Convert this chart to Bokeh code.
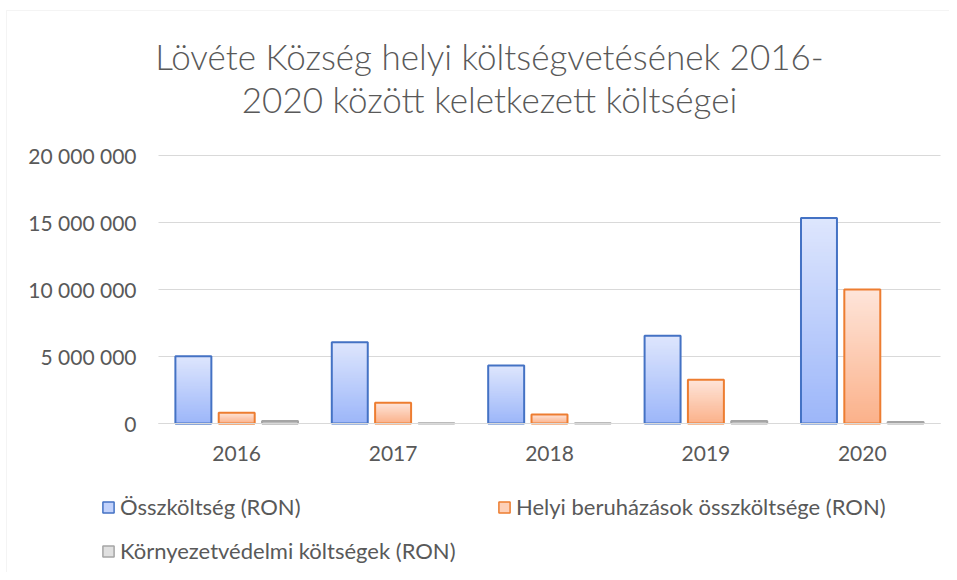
from bokeh.plotting import figure
from bokeh.models import (ColumnDataSource, Legend, LegendItem, Label, Range1d,
                          LinearAxis, FixedTicker, CustomJSTickFormatter,
                          BoxAnnotation)
from bokeh.transform import dodge
from bokeh.embed import file_html
from bokeh.resources import INLINE

# ---- data ----
years = [2016, 2017, 2018, 2019, 2020]
osszkoltseg = [5020000, 6070000, 4330000, 6550000, 15330000]
helyi_beruhazasok = [800000, 1550000, 670000, 3260000, 10000000]
kornyezetvedelmi = [180000, 20000, 20000, 180000, 120000]
series_names = ["Összköltség (RON)",
                "Helyi beruházások összköltsége (RON)",
                "Környezetvédelmi költségek (RON)"]
y_ticks = [0, 5000000, 10000000, 15000000, 20000000]
title_lines = ["Lövéte Község helyi költségvetésének 2016-",
               "2020 között keletkezett költségei"]

FONT = "Lato"
TITLE_FONT = "Lato Light, Lato"
TXT = "#595959"
GRID = "#d9d9d9"

# ---- layout (pixels) ----
W, H = 949, 572
PL, PR, PT, PB = 158, 940, 155, 423          # plot area box
YMAX = 20000000
cat_px = (PR - PL) / len(years)
val_px = (PB - PT) / YMAX
xa, xb = years[0] - 0.5, years[-1] + 0.5
x_start = xa - PL / cat_px
x_end = xb + (W - PR) / cat_px
y_start = -(H - PB) / val_px
y_end = YMAX + PT / val_px

p = figure(width=W, height=H, output_backend="svg", toolbar_location=None,
           x_range=Range1d(x_start, x_end), y_range=Range1d(y_start, y_end),
           x_axis_location=None, y_axis_location=None,
           min_border=0, min_border_left=0, min_border_right=0,
           min_border_top=0, min_border_bottom=0)
p.outline_line_color = None
p.xgrid.grid_line_color = None
p.ygrid.grid_line_color = None

# chart border (top / left visible)
p.add_layout(BoxAnnotation(left=6, right=W + 20, bottom=-20, top=H - 10,
                           left_units="screen", right_units="screen",
                           bottom_units="screen", top_units="screen",
                           fill_alpha=0, line_color=GRID, line_width=1))

# gridlines from the tick list
p.segment(x0=[xa] * len(y_ticks), x1=[xb] * len(y_ticks), y0=y_ticks,
          y1=y_ticks, line_color=GRID, line_width=1)

yax = LinearAxis(fixed_location=xa, ticker=FixedTicker(ticks=y_ticks),
                 formatter=CustomJSTickFormatter(
                     code=r"return tick.toFixed(0).replace(/\B(?=(\d{3})+(?!\d))/g, ' ');"),
                 axis_line_color=None, bounds=(0, YMAX))
xax = LinearAxis(fixed_location=0, ticker=FixedTicker(ticks=years),
                 formatter=CustomJSTickFormatter(code="return tick.toFixed(0);"),
                 axis_line_color=GRID, bounds=(xa, xb))
for ax in (xax, yax):
    ax.major_tick_line_color = None
    ax.minor_tick_line_color = None
    ax.major_tick_in = 0
    ax.major_tick_out = 0
    ax.major_label_text_font = FONT
    ax.major_label_text_font_size = "21px"
    ax.major_label_text_color = TXT
yax.major_label_standoff = 22
xax.major_label_standoff = 22
p.add_layout(yax, "left")
p.add_layout(xax, "below")


def mix(c1, c2, t):
    a = [int(c1[i:i + 2], 16) for i in (1, 3, 5)]
    b = [int(c2[i:i + 2], 16) for i in (1, 3, 5)]
    return "#%02x%02x%02x" % tuple(round(a[k] + (b[k] - a[k]) * t) for k in range(3))


styles = [
    (osszkoltseg, -0.277, "#9cb6f9", "#dee6fd", "#4472c4", "#c2d2fb"),
    (helyi_beruhazasok, 0.0, "#fbb18a", "#fee5da", "#ed7d31", "#fdd0b8"),
    (kornyezetvedelmi, 0.277, "#c4c4c4", "#ececec", "#a5a5a5", "#e0e0e0"),
]
BW = 0.23
N = 60
legend_renderers = []
for vals, off, c_bot, c_top, c_line, c_mid in styles:
    # legend swatch renderer: a zero-height bar hidden under the first bar's outline
    lsrc = ColumnDataSource(dict(x=years[:1], top=[0]))
    dummy = p.vbar(x=dodge("x", off), top="top", bottom=0, width=BW,
                   source=lsrc, fill_color=c_mid, line_color=c_line,
                   line_width=1.5)
    legend_renderers.append(dummy)
    # gradient: overlapping bars from 0, tallest (lightest) first
    xs, tops, cols = [], [], []
    for yr, v in zip(years, vals):
        for k in range(N - 1, -1, -1):
            xs.append(yr)
            tops.append(v * (k + 1) / N)
            cols.append(mix(c_bot, c_top, (k + 0.5) / N))
    src = ColumnDataSource(dict(x=xs, top=tops, color=cols))
    p.vbar(x=dodge("x", off), bottom=0, top="top", width=BW,
           source=src, fill_color="color", line_color=None)
    osrc = ColumnDataSource(dict(x=years, top=vals))
    p.vbar(x=dodge("x", off), top="top", bottom=0, width=BW, source=osrc,
           fill_color=None, line_color=c_line, line_width=2)

# legend items (bottom-left corners, screen px from lower-left)
legend_pos = [(101, H - 520), (497, H - 520), (101, H - 564)]
for name, r, loc in zip(series_names, legend_renderers, legend_pos):
    lg = Legend(items=[LegendItem(label=name, renderers=[r])],
                location=loc,
                padding=0, margin=0, border_line_color=None,
                background_fill_alpha=0, glyph_width=14, glyph_height=14,
                label_height=14, label_standoff=5,
                label_text_font=FONT, label_text_font_size="22px",
                label_text_color=TXT, label_text_baseline="middle")
    p.add_layout(lg)

for line, yy in zip(title_lines, [H - 55, H - 98]):
    p.add_layout(Label(x=489, y=yy, x_units="screen", y_units="screen",
                       text=line, text_align="center",
                       text_baseline="alphabetic", text_font=TITLE_FONT,
                       text_font_size="35px", text_color=TXT))

open("out.html", "w").write(file_html(p, INLINE))
